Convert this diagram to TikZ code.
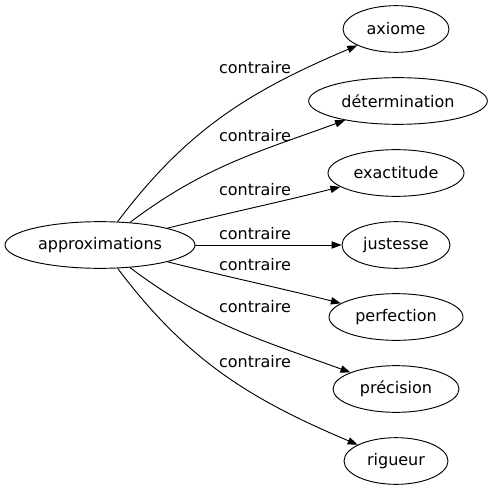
\documentclass[tikz,border=0pt]{standalone}
\usepackage{fontspec}
\setmainfont{DejaVu Sans}
\usetikzlibrary{shapes.geometric, arrows.meta}

\begin{document}
\begin{tikzpicture}[%
    >={Triangle[length=7.5pt,width=5.5pt]}, % filled arrow tips
    x=0.75pt, y=0.75pt,     % one unit is one pixel
    line width=0.7pt,       % thin lines
    word/.style={ellipse, draw, inner sep=0pt, minimum height=35pt,
                 font=\fontsize{12}{14}\selectfont},
    lbl/.style={inner sep=0pt, font=\fontsize{12}{14}\selectfont}
]
    \useasboundingbox (0,0) rectangle (489,-491);

    % ==========================================
    % 1. Words (Nodes)
    % ==========================================
    \node[word, minimum width=142.5pt] (appr) at (100,-245) {approximations};
    \node[word, minimum width=79.5pt]  (axio) at (396,-29)  {axiome};
    \node[word, minimum width=134pt]   (dete) at (398,-101) {détermination};
    \node[word, minimum width=102pt]   (exac) at (396,-173) {exactitude};
    \node[word, minimum width=81pt]    (just) at (396,-245) {justesse};
    \node[word, minimum width=100.5pt] (perf) at (396,-317) {perfection};
    \node[word, minimum width=94.5pt]  (prec) at (396,-389) {précision};
    \node[word, minimum width=78pt]    (rigu) at (396,-461) {rigueur};

    % ==========================================
    % 2. Labels
    % ==========================================
    \node[lbl] (c1) at (255,-68)  {contraire};
    \node[lbl] (c2) at (255,-136) {contraire};
    \node[lbl] (c3) at (255,-190) {contraire};
    \node[lbl] (c4) at (255,-234) {contraire};
    \node[lbl] (c5) at (255,-265) {contraire};
    \node[lbl] (c6) at (255,-307) {contraire};
    \node[lbl] (c7) at (255,-362) {contraire};

    % ==========================================
    % 3. Edges
    % ==========================================
    \path[->]
        (appr) edge[out=53, in=203]  (axio)
        (appr) edge[out=37, in=200]  (dete)
        (appr) edge[out=14, in=194]  (exac)
        (appr) edge                  (just)
        (appr) edge[out=-14, in=166] (perf)
        (appr) edge[out=-37, in=160] (prec)
        (appr) edge[out=-53, in=157] (rigu);

\end{tikzpicture}
\end{document}
